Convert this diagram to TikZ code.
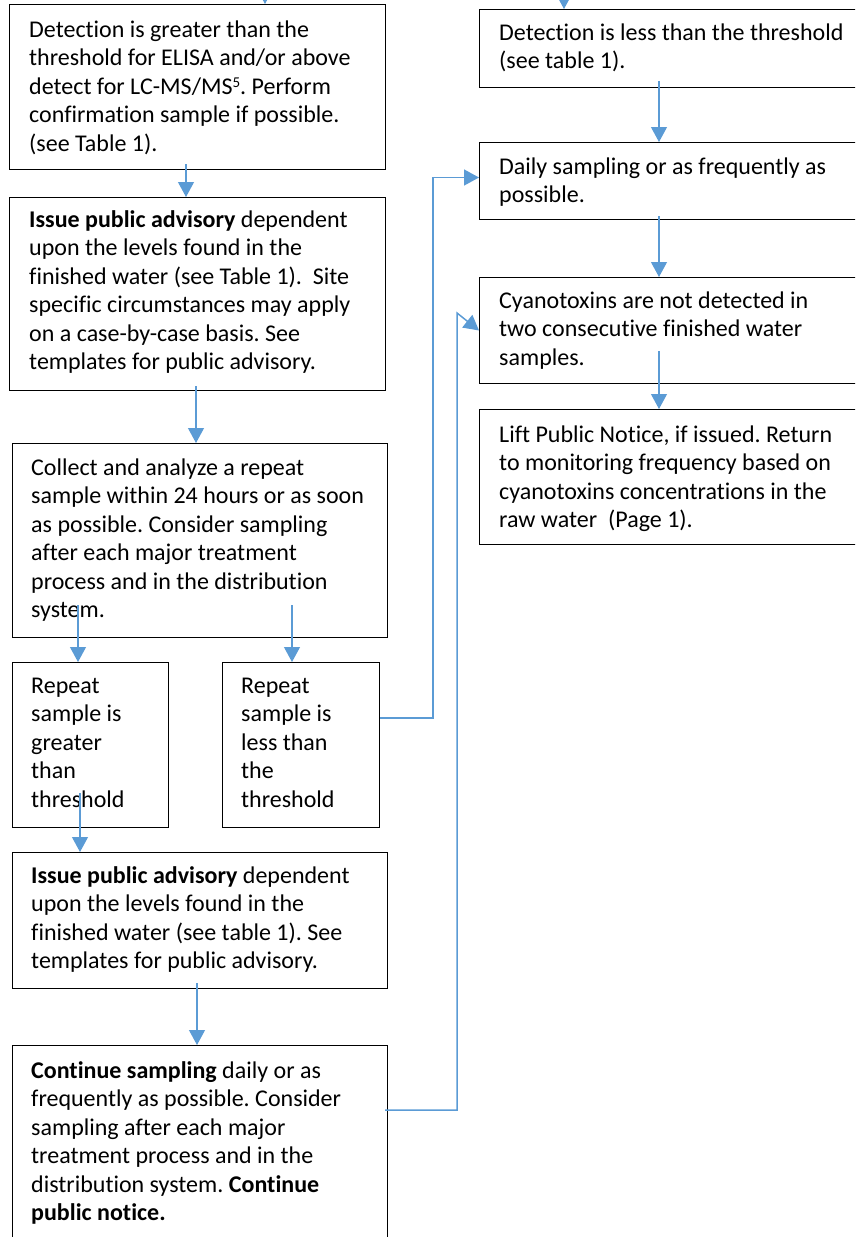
\documentclass[tikz,border=0pt]{standalone}
\usepackage{fontspec}
\setmainfont{Carlito}[Ligatures=CommonOff]
\usetikzlibrary{arrows.meta,calc}
\definecolor{wblue}{HTML}{5B9BD5}
\frenchspacing
\newcommand{\supfive}{\raisebox{6.5pt}{\fontsize{15}{15}\selectfont 5}}
\begin{document}
\begin{tikzpicture}[x=1pt,y=-1pt,
 box/.style={draw=black,line width=1pt,rectangle,inner sep=0pt,anchor=north west},
 txt/.style={inner sep=0pt,anchor=north west,align=left,font=\fontsize{24}{28.5}\selectfont},
 arr/.style={draw=wblue,line width=1.1pt,-{Triangle[width=16pt,length=15pt]}},
 link/.style={draw=wblue,line width=1.5pt,-{Triangle[width=16pt,length=15pt]}}]
\useasboundingbox (0,0) rectangle (855,1237);
\clip (0,0) rectangle (855,1237);

% boxes
\node[box,minimum width=376pt,minimum height=165pt] (b1) at (9,4) {};
\node[box,minimum width=400pt,minimum height=78pt] (b2) at (479,9) {};
\node[box,minimum width=400pt,minimum height=77pt] (b3) at (479,142) {};
\node[box,minimum width=400pt,minimum height=106pt] (b4) at (479,277) {};
\node[box,minimum width=400pt,minimum height=135pt] (b5) at (479,409) {};
\node[box,minimum width=376pt,minimum height=193pt] (b6) at (9,197) {};
\node[box,minimum width=375pt,minimum height=194pt] (b7) at (12,443) {};
\node[box,minimum width=156pt,minimum height=165pt] (b8) at (12,662) {};
\node[box,minimum width=157pt,minimum height=165pt] (b9) at (222,662) {};
\node[box,minimum width=375pt,minimum height=136pt] (b10) at (12,852) {};
\node[box,minimum width=375pt,minimum height=220pt] (b11) at (12,1045) {};

% texts
\node[txt] (t1) at ([xshift=20pt,yshift=-13pt]b1.north west) {\rule{0pt}{20pt}Detection is greater than the\\threshold for ELISA and/or above\\detect for LC-MS/MS\supfive. Perform\\confirmation sample if possible.\\(see Table 1).};
\node[txt] (t2) at ([xshift=20pt,yshift=-11pt]b2.north west) {\rule{0pt}{20pt}Detection is less than the threshold\\(see table 1).};
\node[txt] (t3) at ([xshift=20pt,yshift=-12pt]b3.north west) {\rule{0pt}{20pt}Daily sampling or as frequently as\\possible.};
\node[txt] (t4) at ([xshift=20pt,yshift=-11pt]b4.north west) {\rule{0pt}{20pt}Cyanotoxins are not detected in\\two consecutive finished water\\samples.};
\node[txt] (t5) at ([xshift=20pt,yshift=-13pt]b5.north west) {\rule{0pt}{20pt}Lift Public Notice, if issued. Return\\to monitoring frequency based on\\cyanotoxins concentrations in the\\raw water~ (Page 1).};
\node[txt] (t6) at ([xshift=20pt,yshift=-10pt]b6.north west) {\rule{0pt}{20pt}\textbf{Issue public advisory} dependent\\upon the levels found in the\\finished water (see Table 1).~ Site\\specific circumstances may apply\\on a case-by-case basis. See\\templates for public advisory.};
\node[txt] (t7) at ([xshift=19pt,yshift=-12pt]b7.north west) {\rule{0pt}{20pt}Collect and analyze a repeat\\sample within 24 hours or as soon\\as possible. Consider sampling\\after each major treatment\\process and in the distribution\\system.};
\node[txt] (t8) at ([xshift=19pt,yshift=-11pt]b8.north west) {\rule{0pt}{20pt}Repeat\\sample is\\greater\\than\\threshold};
\node[txt] (t9) at ([xshift=19pt,yshift=-11pt]b9.north west) {\rule{0pt}{20pt}Repeat\\sample is\\less than\\the\\threshold};
\node[txt] (t10) at ([xshift=19pt,yshift=-11pt]b10.north west) {\rule{0pt}{20pt}\textbf{Issue public advisory} dependent\\upon the levels found in the\\finished water (see table 1). See\\templates for public advisory.};
\node[txt] (t11) at ([xshift=19pt,yshift=-13pt]b11.north west) {\rule{0pt}{20pt}\textbf{Continue sampling} daily or as\\frequently as possible. Consider\\sampling after each major\\treatment process and in the\\distribution system. \textbf{Continue}\\\textbf{public notice.}};

% incoming arrows from above
\coordinate (in1) at (265,-30);
\coordinate (in2) at (564,-30);
\draw[arr] (in1) -- (in1 |- b1.north);
\draw[arr] (in2) -- (in2 |- b2.north);

% vertical arrows
\draw[arr] ([xshift=177pt,yshift=6pt]b1.south west) coordinate (s1) -- (s1 |- b6.north);
\draw[arr] ([xshift=187pt,yshift=5pt]b6.south west) coordinate (s2) -- (s2 |- b7.north);
\draw[arr] ([xshift=66pt,yshift=33pt]b7.south west) coordinate (s3) -- (s3 |- b8.north);
\draw[arr] ([xshift=280pt,yshift=33pt]b7.south west) coordinate (s4) -- (s4 |- b9.north);
\draw[arr] ([xshift=68pt,yshift=35pt]b8.south west) coordinate (s5) -- (s5 |- b10.north);
\draw[arr] ([xshift=185pt,yshift=6pt]b10.south west) coordinate (s6) -- (s6 |- b11.north);
\draw[arr] ([xshift=180pt,yshift=7pt]b2.south west) coordinate (s7) -- (s7 |- b3.north);
\draw[arr] ([xshift=180pt,yshift=4pt]b3.south west) coordinate (s8) -- (s8 |- b4.north);
\draw[arr] ([xshift=180pt,yshift=33pt]b4.south west) coordinate (s9) -- (s9 |- b5.north);

% elbow connectors
\draw[link] ([yshift=-56pt]b9.north east) -- ++(53,0) |- ([yshift=3.5pt]b3.west);
\draw[link] ([xshift=-3pt,yshift=-65pt]b11.north east) -- ++(72,0) -- ++(0,-797) -- (b4.west);
\end{tikzpicture}
\end{document}
